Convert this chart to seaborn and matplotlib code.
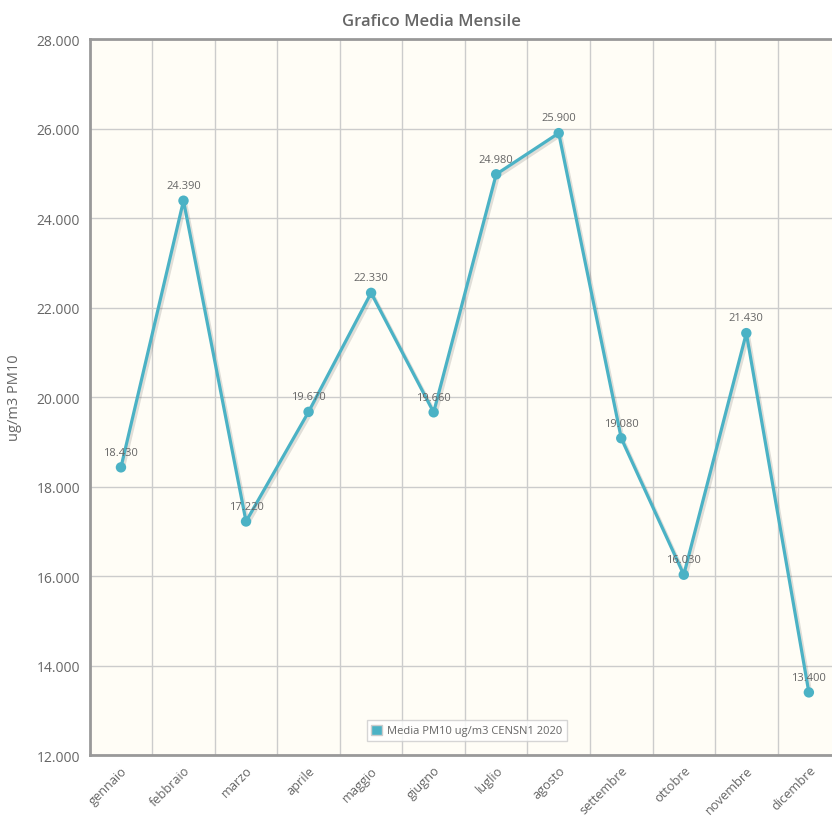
import numpy as np
import pandas as pd
import matplotlib
matplotlib.use("Agg")
import matplotlib.pyplot as plt
import matplotlib.patheffects as pe
from matplotlib.patches import Patch
import seaborn as sns

months = ["gennaio", "febbraio", "marzo", "aprile", "maggio", "giugno",
          "luglio", "agosto", "settembre", "ottobre", "novembre", "dicembre"]
pm10 = [18.43, 24.39, 17.22, 19.67, 22.33, 19.66,
        24.98, 25.90, 19.08, 16.03, 21.43, 13.40]
y_ticks = [12, 14, 16, 18, 20, 22, 24, 26, 28]
series_name = "Media PM10 ug/m3 CENSN1 2020"

LINE = "#4bb2c5"
TEXT = "#666666"

sns.set_style("white")
plt.rcParams["font.family"] = ["Open Sans", "DejaVu Sans"]

df = pd.DataFrame({"pos": np.arange(len(months)), "val": pm10})

fig = plt.figure(figsize=(8.32, 8.2), dpi=100)
ax = fig.add_axes([0.1078, 0.078, 0.8922, 0.873])
ax.set_facecolor("#fffdf6")

sns.lineplot(data=df, x="pos", y="val", ax=ax, color=LINE, linewidth=2.3,
             marker="o", markersize=7.5, markeredgewidth=0,
             path_effects=[pe.SimpleLineShadow(offset=(1.5, -1.5), alpha=0.12, shadow_color="k"),
                           pe.Normal()])

for x, v in zip(df["pos"], df["val"]):
    ax.annotate(f"{v:.3f}", (x, v), xytext=(0, 7),
                textcoords="offset points", ha="center", va="bottom",
                fontsize=8, color=TEXT)

ax.set_xlim(-0.5, 11.37)
ax.set_ylim(12, 28)
ax.set_yticks(y_ticks)
ax.set_yticklabels([f"{t}.000" for t in y_ticks], fontsize=10, color=TEXT)
ax.set_xticks(df["pos"])
ax.set_xticklabels(months, rotation=45, ha="right", rotation_mode="anchor",
                   fontsize=9.2, color=TEXT)
ax.set_xticks(np.arange(0.5, 11.5, 1), minor=True)
ax.tick_params(axis="x", which="major", length=0, pad=6)
ax.tick_params(axis="x", which="minor", length=4, color="#999999", width=1)
ax.tick_params(axis="y", length=4, color="#999999", width=1, pad=3)

ax.grid(False)
ax.grid(True, axis="y", which="major", color="#cccccc", linewidth=1)
ax.grid(True, axis="x", which="minor", color="#cccccc", linewidth=1)
ax.set_axisbelow(True)

for side in ["left", "top", "bottom"]:
    ax.spines[side].set_color("#999999")
    ax.spines[side].set_linewidth(2)
ax.spines["right"].set_visible(False)

ax.set_xlabel("")
ax.set_ylabel("ug/m3 PM10", fontsize=10.5, color=TEXT, labelpad=10)
ax.set_title("Grafico Media Mensile", fontsize=12, color=TEXT, pad=10,
             fontweight="semibold")
ax.title.set_position((0.46, 1.0))

handle = Patch(facecolor=LINE, edgecolor="#cccccc", linewidth=1)
leg = ax.legend([handle], [series_name], loc="lower center",
                bbox_to_anchor=(0.508, 0.012), fontsize=8, frameon=True,
                fancybox=False, handlelength=1.0, handleheight=1.0,
                handletextpad=0.4, borderpad=0.4, labelcolor=TEXT)
leg.get_frame().set_edgecolor("#cccccc")
leg.get_frame().set_facecolor("#ffffff")
leg.get_frame().set_linewidth(1)

fig.savefig("out.png", dpi=100)
